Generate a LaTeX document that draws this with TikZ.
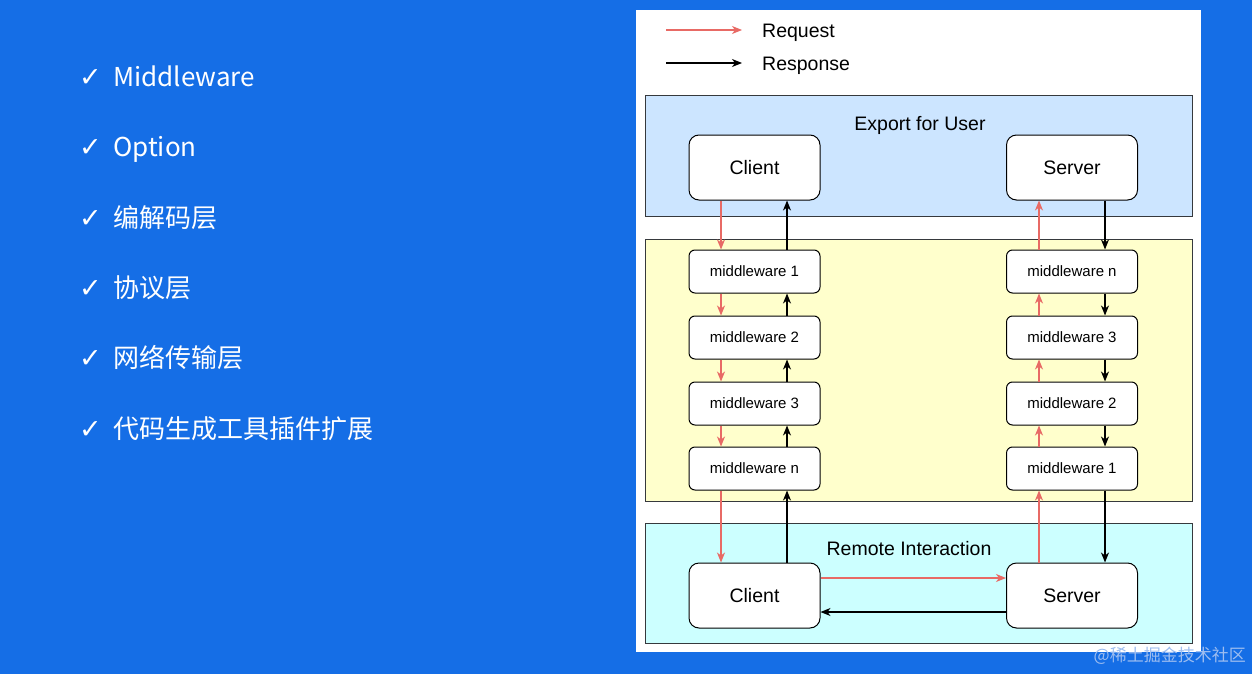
\documentclass[tikz,border=0pt]{standalone}
\usepackage{fontspec}
\setmainfont{Liberation Sans}
\newfontfamily\cjk{Noto Sans CJK SC}
\newfontfamily\dv{DejaVu Sans}
\usetikzlibrary{arrows.meta}
\definecolor{bgblue}{HTML}{156EE6}
\definecolor{reqred}{HTML}{E86A65}
\definecolor{layblue}{HTML}{CCE5FF}
\definecolor{layyellow}{HTML}{FFFFCC}
\definecolor{laycyan}{HTML}{CCFFFF}
\definecolor{edge}{HTML}{36393D}
\definecolor{wmark}{HTML}{9DBDF0}
\begin{document}
\begin{tikzpicture}[x=1pt,y=-1pt,
  layer/.style={draw=edge,line width=1pt},
  bigbox/.style={draw=black,fill=white,rounded corners=10pt,line width=1pt,minimum width=131pt,minimum height=65pt,inner sep=0pt,font=\fontsize{19.5}{22}\selectfont},
  mwbox/.style={draw=black,fill=white,rounded corners=6pt,line width=1pt,minimum width=131pt,minimum height=43pt,inner sep=0pt,font=\fontsize{15}{18}\selectfont},
  req/.style={draw=reqred,line width=1.2pt,-{Stealth[length=10pt,width=8pt,inset=3pt]}},
  resp/.style={draw=black,line width=1.2pt,-{Stealth[length=10pt,width=8pt,inset=3pt]}},
  item/.style={anchor=base west,text=white,inner sep=0pt,font=\cjk\fontsize{26}{30}\selectfont},
  tick/.style={anchor=base west,text=white,inner sep=0pt,font=\dv\fontsize{27}{30}\selectfont},
  lbl/.style={inner sep=0pt,font=\fontsize{19.5}{22}\selectfont}
]
\useasboundingbox (0,0) rectangle (1252,674);
\fill[bgblue] (0,0) rectangle (1252,674);

% left list
\foreach \y/\t [count=\i] in {87/Middleware,157/Option,227/编解码层,297/协议层,367/网络传输层,438/代码生成工具插件扩展}{
  \node[tick] (tk\i) at (79,\y) {✓};
  \node[item] (it\i) at (113,\y) {\t};
}

% white panel
\fill[white] (636,10) rectangle (1201,652);

% legend
\coordinate (lr1) at (666,30);
\coordinate (lr2) at (742,30);
\coordinate (lb1) at (666,63);
\coordinate (lb2) at (742,63);
\draw[req] (lr1) -- (lr2);
\draw[resp] (lb1) -- (lb2);
\node[lbl,anchor=base west] (lreq) at (762,38) {Request};
\node[lbl,anchor=base west] (lresp) at (762,71) {Response};

% layers
\draw[layer,fill=layblue] (645,96) rectangle (1192,216);
\draw[layer,fill=layyellow] (645,239) rectangle (1192,501);
\draw[layer,fill=laycyan] (645,523) rectangle (1192,643);
\node[lbl,anchor=base] (t1) at (920,131) {Export for User};
\node[lbl,anchor=base] (t3) at (909,555) {Remote Interaction};

% top boxes
\node[bigbox] (uc) at (754.5,167.5) {Client};
\node[bigbox] (us) at (1072,167.5) {Server};

% middleware left
\node[mwbox] (l1) at (754.5,271.5) {middleware 1};
\node[mwbox] (l2) at (754.5,337.5) {middleware 2};
\node[mwbox] (l3) at (754.5,403.5) {middleware 3};
\node[mwbox] (l4) at (754.5,468.5) {middleware n};
% middleware right
\node[mwbox] (r1) at (1072,271.5) {middleware n};
\node[mwbox] (r2) at (1072,337.5) {middleware 3};
\node[mwbox] (r3) at (1072,403.5) {middleware 2};
\node[mwbox] (r4) at (1072,468.5) {middleware 1};

% bottom boxes
\node[bigbox] (bc) at (754.5,595.5) {Client};
\node[bigbox] (bs) at (1072,595.5) {Server};

% left column: request down, response up
\foreach \a/\b in {uc/l1,l1/l2,l2/l3,l3/l4,l4/bc}{
  \draw[req] ([xshift=-33.5pt]\a.south) -- ([xshift=-33.5pt]\b.north);
  \draw[resp] ([xshift=32.5pt]\b.north) -- ([xshift=32.5pt]\a.south);
}
% right column: request up, response down
\foreach \a/\b in {us/r1,r1/r2,r2/r3,r3/r4,r4/bs}{
  \draw[req] ([xshift=-33pt]\b.north) -- ([xshift=-33pt]\a.south);
  \draw[resp] ([xshift=33pt]\a.south) -- ([xshift=33pt]\b.north);
}
% bottom horizontal
\draw[req] ([yshift=17.5pt]bc.east) -- ([yshift=17.5pt]bs.west);
\draw[resp] ([yshift=-16.5pt]bs.west) -- ([yshift=-16.5pt]bc.east);

% watermark
\node[anchor=east,inner sep=0pt,text=wmark,font=\cjk\fontsize{17}{20}\selectfont] (wm) at (1246,656) {@稀土掘金技术社区};
\end{tikzpicture}
\end{document}
